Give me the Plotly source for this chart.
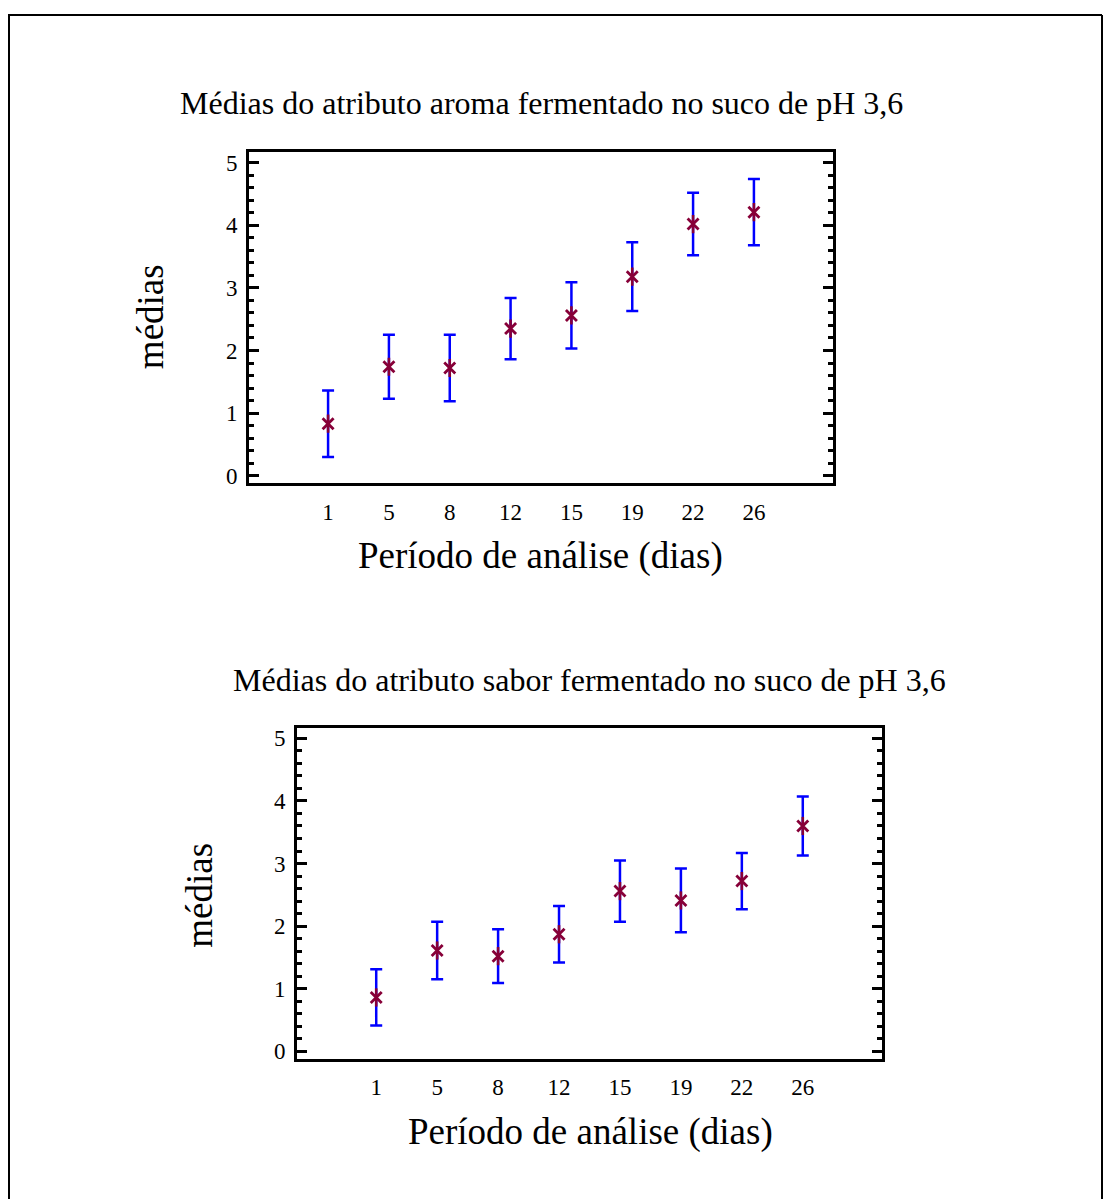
import plotly.graph_objects as go

W, H = 1104, 1199

dias = ["1", "5", "8", "12", "15", "19", "22", "26"]

aroma_medias = [0.83, 1.74, 1.72, 2.35, 2.56, 3.18, 4.02, 4.21]
aroma_erro = [0.53, 0.51, 0.53, 0.49, 0.53, 0.55, 0.50, 0.53]

sabor_medias = [0.86, 1.61, 1.52, 1.87, 2.56, 2.41, 2.72, 3.60]
sabor_erro = [0.45, 0.46, 0.43, 0.45, 0.49, 0.51, 0.45, 0.47]

y_ticks = [0, 1, 2, 3, 4, 5]

titulo_aroma = "Médias do atributo aroma fermentado no suco de pH 3,6"
titulo_sabor = "Médias do atributo sabor fermentado no suco de pH 3,6"
titulo_x = "Período de análise (dias)"
titulo_y = "médias"

FONT = "Liberation Serif, Times New Roman, serif"
BLUE = "#0000ff"
MAROON = "#870038"

fig = go.Figure()


def add_series(medias, erro, xa, ya):
    fig.add_trace(go.Scatter(
        x=dias, y=medias, mode="markers", xaxis=xa, yaxis=ya,
        error_y=dict(type="data", array=erro, visible=True, color=BLUE,
                     thickness=2.5, width=6),
        marker=dict(symbol="x-thin-open", size=11, color=MAROON,
                    line=dict(color=MAROON, width=2.8)),
        showlegend=False, hoverinfo="skip"))
    fig.add_trace(go.Scatter(
        x=dias, y=medias, mode="markers", xaxis=xa, yaxis=ya,
        marker=dict(symbol="line-ns-open", size=13, color=MAROON,
                    line=dict(color=MAROON, width=2.6)),
        showlegend=False, hoverinfo="skip"))


add_series(aroma_medias, aroma_erro, "x", "y")
add_series(sabor_medias, sabor_erro, "x2", "y2")


def px_x(p):
    return p / W


def px_y(p):
    return 1 - p / H


xaxis_common = dict(
    type="category", range=[-1.3, 8.3], showline=True, linecolor="black",
    linewidth=3, mirror=True, ticks="", showgrid=False, zeroline=False,
    tickfont=dict(family=FONT, size=23, color="black"), ticklabelstandoff=6,
    fixedrange=True)

yaxis_common = dict(
    range=[-0.12, 5.17], tickvals=y_ticks, showline=True, linecolor="black",
    linewidth=3, mirror="ticks", ticks="inside", ticklen=10, tickwidth=2.5,
    tickcolor="black", showgrid=False, zeroline=False,
    minor=dict(dtick=0.2, ticks="inside", ticklen=5, tickwidth=2.5,
               tickcolor="black", showgrid=False),
    tickfont=dict(family=FONT, size=23, color="black"), ticklabelstandoff=4,
    fixedrange=True)

fig.update_layout(
    width=W, height=H,
    margin=dict(l=0, r=0, t=0, b=0),
    paper_bgcolor="white", plot_bgcolor="white",
    xaxis=dict(domain=[px_x(249), px_x(833)], anchor="y", **xaxis_common),
    yaxis=dict(domain=[px_y(485), px_y(152)], anchor="x", **yaxis_common),
    xaxis2=dict(domain=[px_x(297), px_x(882)], anchor="y2", **xaxis_common),
    yaxis2=dict(domain=[px_y(1064), px_y(731)], anchor="x2", **yaxis_common),
)

annotations = [
    dict(text=titulo_aroma, x=px_x(541), y=px_y(103), size=32),
    dict(text=titulo_x, x=px_x(540), y=px_y(558), size=37),
    dict(text=titulo_sabor, x=px_x(589), y=px_y(683), size=32),
    dict(text=titulo_x, x=px_x(590), y=px_y(1138), size=37),
]
for a in annotations:
    fig.add_annotation(text=a["text"], x=a["x"], y=a["y"], xref="paper",
                       yref="paper", xanchor="center", yanchor="middle",
                       showarrow=False,
                       font=dict(family=FONT, size=a["size"], color="black"))

for xc, yc in [(150, 318), (200, 900)]:
    fig.add_annotation(text=titulo_y, x=px_x(xc), y=px_y(yc), xref="paper",
                       yref="paper", xanchor="center", yanchor="middle",
                       showarrow=False, textangle=-90,
                       font=dict(family=FONT, size=37, color="black"))

# outer frame
frame = dict(color="black", width=2)
fig.add_shape(type="line", xref="paper", yref="paper", x0=px_x(9), x1=px_x(9),
              y0=px_y(14), y1=-0.05, line=frame)
fig.add_shape(type="line", xref="paper", yref="paper", x0=px_x(8), x1=px_x(1102),
              y0=px_y(14), y1=px_y(14), line=frame)
fig.add_shape(type="line", xref="paper", yref="paper", x0=px_x(1102), x1=px_x(1102),
              y0=px_y(14), y1=-0.05, line=frame)

fig.write_html("out.html")
